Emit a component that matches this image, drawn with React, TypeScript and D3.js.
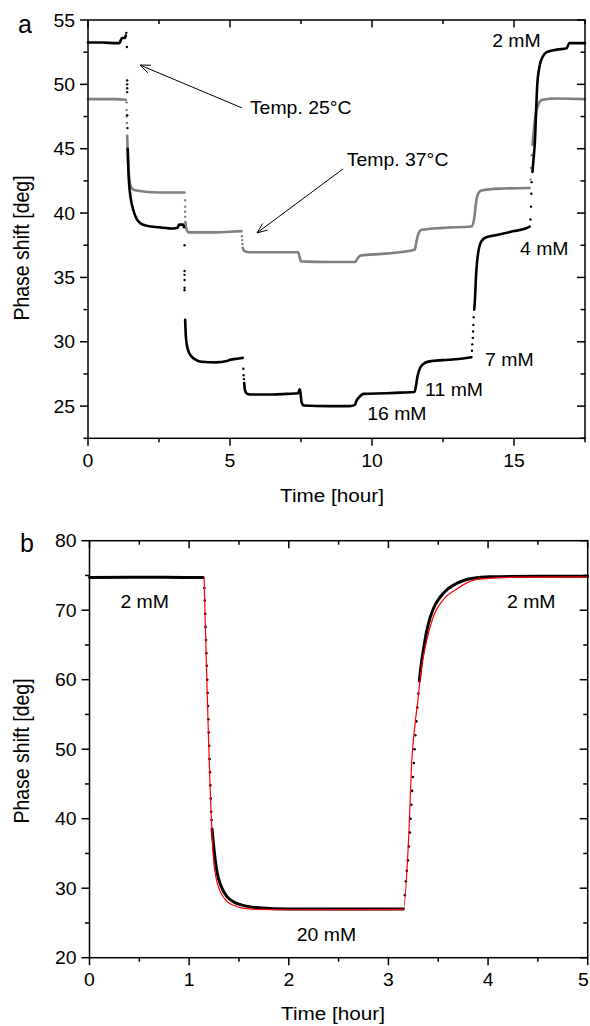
import React, { useRef, useEffect } from 'react';
import * as d3 from 'd3';

type Pt = [number, number];

// ---- panel a (time in hours, phase shift in deg); NaN marks a gap in the dense trace
const blackA: Pt[] = [
  [0, 53.25], [0.5, 53.25], [1.0, 53.2], [1.1, 53.2], [1.15, 53.4], [1.2, 53.6], [1.3, 53.6], [1.33, 53.8],
  [1.34, NaN],
  [1.4, 45.0], [1.42, 43.5], [1.45, 42.2], [1.5, 41.2], [1.6, 40.2], [1.7, 39.6], [1.85, 39.2], [2.1, 39.0],
  [2.5, 38.9], [3.0, 38.8], [3.15, 38.85], [3.2, 39.1], [3.35, 39.1], [3.38, 38.9],
  [3.39, NaN],
  [3.42, 31.7], [3.44, 30.6], [3.47, 29.9], [3.55, 29.2], [3.65, 28.85], [3.8, 28.6], [4.0, 28.45], [4.5, 28.4],
  [4.9, 28.5], [5.0, 28.6], [5.3, 28.7], [5.45, 28.75],
  [5.46, NaN],
  [5.5, 26.8], [5.52, 26.3], [5.58, 26.0], [5.7, 25.9], [6.5, 25.9], [7.0, 25.95], [7.4, 26.0], [7.45, 26.3],
  [7.48, 26.1], [7.52, 25.3], [7.6, 25.05], [8.5, 25.0], [9.2, 25.0], [9.4, 25.1], [9.45, 25.4], [9.55, 25.7],
  [9.7, 25.95], [10.5, 26.0], [11.0, 26.05], [11.5, 26.1], [11.55, 26.6], [11.6, 27.3], [11.7, 28.0], [11.85, 28.35],
  [12.1, 28.5], [12.7, 28.6], [13.2, 28.7], [13.5, 28.8],
  [13.51, NaN],
  [13.6, 32.5], [13.63, 33.5], [13.66, 35.0], [13.7, 36.2], [13.76, 37.2], [13.85, 37.8], [14.0, 38.1], [14.4, 38.3],
  [15.0, 38.6], [15.4, 38.8], [15.55, 38.95],
  [15.56, NaN],
  [15.65, 43.2], [15.7, 44.5], [15.74, 45.7], [15.78, 48.0], [15.82, 50.0], [15.9, 51.4], [16.0, 52.1], [16.15, 52.5],
  [16.5, 52.7], [16.85, 52.8], [16.95, 53.2], [17.5, 53.2],
];

const blackADots: Pt[] = [
  [1.35, 54.0], [1.37, 52.9], [1.38, 50.3], [1.38, 50.0], [1.38, 49.7], [1.38, 49.4], [1.38, 47.6], [1.39, 46.6],
  [3.4, 37.5], [3.4, 35.5], [3.4, 35.2], [3.4, 34.8], [3.4, 34.2], [3.4, 34.0],
  [5.47, 27.9], [5.48, 27.4], [5.49, 27.1],
  [13.52, 29.3], [13.53, 29.8], [13.55, 30.3], [13.56, 30.8], [13.57, 31.3], [13.58, 31.9],
  [15.58, 39.5], [15.6, 40.5], [15.61, 41.5], [15.62, 42.4],
];

const grayA: Pt[] = [
  [0, 48.85], [1.0, 48.85], [1.33, 48.8],
  [1.34, NaN],
  [1.38, 46.0], [1.4, 44.5], [1.43, 43.2], [1.48, 42.3], [1.55, 41.9], [1.7, 41.75], [2.5, 41.6], [3.4, 41.6],
  [3.41, NaN],
  [3.43, 39.3], [3.46, 38.8], [3.55, 38.5], [4.5, 38.5], [5.0, 38.55], [5.4, 38.6],
  [5.41, NaN],
  [5.45, 37.3], [5.5, 37.05], [5.7, 36.95], [6.5, 36.95], [7.4, 36.95], [7.45, 36.6], [7.5, 36.25], [8.5, 36.2],
  [9.4, 36.2], [9.5, 36.5], [9.6, 36.7], [10.5, 36.85], [11.5, 37.15], [11.55, 37.6], [11.62, 38.3], [11.75, 38.7],
  [12.5, 38.85], [13.5, 38.95], [13.6, 39.6], [13.65, 40.6], [13.72, 41.4], [13.85, 41.75], [14.5, 41.9], [15.55, 41.95],
  [15.56, NaN],
  [15.65, 45.3], [15.7, 46.5], [15.75, 47.5], [15.85, 48.4], [16.0, 48.8], [16.5, 48.9], [17.5, 48.85],
];

const grayADots: Pt[] = [
  [1.36, 48.6], [1.36, 48.0], [1.36, 47.5], [1.37, 47.0],
  [3.42, 41.0], [3.42, 40.5], [3.42, 40.1], [3.42, 39.7],
  [5.42, 38.2], [5.43, 37.9], [5.44, 37.6],
  [15.58, 42.6], [15.6, 43.5], [15.62, 44.5],
];

const xTicksA = [0, 5, 10, 15];
const yTicksA = [25, 30, 35, 40, 45, 50, 55];

const notesA = [
  { text: '2 mM', t: 14.23, v: 52.9 },
  { text: 'Temp. 25°C', t: 5.7, v: 47.7 },
  { text: 'Temp. 37°C', t: 9.11, v: 43.66 },
  { text: '4 mM', t: 15.21, v: 36.75 },
  { text: '7 mM', t: 13.98, v: 28.1 },
  { text: '11 mM', t: 11.87, v: 25.8 },
  { text: '16 mM', t: 9.83, v: 23.94 },
];

const arrowsA: { from: Pt; to: Pt }[] = [
  { from: [5.42, 48.17], to: [1.83, 51.5] },
  { from: [8.98, 43.43], to: [5.95, 38.46] },
];

// ---- panel b
const blackB: Pt[] = [
  [0, 74.7], [0.5, 74.75], [1.0, 74.7], [1.14, 74.7],
  [1.145, NaN],
  [1.23, 38.5], [1.25, 35.5], [1.28, 32.3], [1.32, 30.3], [1.38, 28.8], [1.45, 28.0], [1.55, 27.5], [1.7, 27.2],
  [2.0, 27.0], [2.5, 27.0], [3.0, 27.0], [3.15, 27.0],
  [3.155, NaN],
  [3.31, 59.8], [3.33, 62.3], [3.35, 64.2], [3.38, 66.7], [3.42, 69.0], [3.47, 70.8], [3.52, 71.9], [3.6, 73.1],
  [3.69, 73.9], [3.77, 74.35], [3.85, 74.6], [4.02, 74.8], [4.5, 74.9], [5.0, 74.9],
];

const blackBDots: Pt[] = [
  [1.153, 73.2], [1.157, 71.4], [1.161, 69.5], [1.165, 67.6], [1.169, 65.7], [1.173, 63.8], [1.177, 62.0],
  [1.181, 60.0], [1.185, 58.1], [1.189, 56.2], [1.193, 54.3], [1.197, 52.4], [1.201, 50.5], [1.205, 48.6],
  [1.209, 46.7], [1.213, 44.8], [1.217, 42.9], [1.221, 41.0], [1.225, 39.8],
  [3.165, 29.0], [3.175, 31.0], [3.185, 32.5], [3.195, 34.0], [3.205, 36.0], [3.215, 38.0], [3.222, 40.0],
  [3.23, 42.0], [3.238, 44.0], [3.245, 46.0], [3.255, 48.0], [3.262, 50.0], [3.27, 52.0], [3.28, 54.0],
  [3.29, 56.0], [3.3, 58.0],
];

const fitB: Pt[] = [
  [1.15, 74.7], [1.223, 40.0], [1.243, 34.5], [1.27, 31.5], [1.31, 29.6], [1.38, 28.1], [1.45, 27.5], [1.55, 27.1],
  [1.7, 26.95], [2.0, 26.9], [3.15, 26.95], [3.2, 36.3], [3.235, 48.4], [3.27, 54.0], [3.3, 57.5], [3.32, 60.4],
  [3.385, 65.7], [3.45, 69.05], [3.55, 71.5], [3.69, 73.1], [3.85, 74.3], [4.02, 74.6], [4.3, 74.75], [5.0, 74.8],
];

const xTicksB = [0, 1, 2, 3, 4, 5];
const yTicksB = [20, 30, 40, 50, 60, 70, 80];

const notesB = [
  { text: '2 mM', t: 0.31, v: 70.3 },
  { text: '2 mM', t: 4.19, v: 70.3 },
  { text: '20 mM', t: 2.08, v: 22.4 },
];

const FONT = '"Liberation Sans", Arial, Helvetica, sans-serif';

const App = () => {
  const ref = useRef<SVGSVGElement>(null);

  useEffect(() => {
    if (!ref.current) return;
    const svg = d3.select(ref.current);
    svg.selectAll('*').remove();
    const W = 590;

    const text = (g: any, x: number, y: number, s: string, size: number, anchor = 'start', sx = 1.08) =>
      g.append('text')
        .attr('transform', `translate(${x},${y}) scale(${sx},1)`)
        .attr('text-anchor', anchor)
        .attr('font-size', size)
        .attr('font-family', FONT)
        .attr('fill', '#000')
        .text(s);

    const frame = (x: any, y: any, xt: number[], xMinor: number, yt: number[], yMinor: number) => {
      const [x0, x1] = x.range();
      const [y0, y1] = y.range();
      const g = svg.append('g').attr('stroke', '#000').attr('stroke-width', 1.5);
      g.append('rect').attr('x', x0).attr('y', y1).attr('width', x1 - x0).attr('height', y0 - y1).attr('fill', 'none');
      const [dx0, dx1] = x.domain();
      const [dy0, dy1] = y.domain();
      const minorX = d3.range(dx0, dx1 + 1e-9, xMinor);
      const minorY = d3.range(dy0, dy1 + 1e-9, yMinor);
      minorX.forEach(v => {
        const major = xt.some(t => Math.abs(t - v) < 1e-9);
        const len = major ? 7.5 : 4;
        g.append('line').attr('x1', x(v)).attr('x2', x(v)).attr('y1', y0).attr('y2', y0 + len);
        g.append('line').attr('x1', x(v)).attr('x2', x(v)).attr('y1', y1).attr('y2', y1 + len);
      });
      minorY.forEach(v => {
        const major = yt.some(t => Math.abs(t - v) < 1e-9);
        const len = major ? 8 : 4.5;
        g.append('line').attr('y1', y(v)).attr('y2', y(v)).attr('x1', x0).attr('x2', x0 - len);
        g.append('line').attr('y1', y(v)).attr('y2', y(v)).attr('x1', x1).attr('x2', x1 - len);
      });
      // the last label sits on the page edge; keep it inside
      xt.forEach(v => text(svg, Math.min(x(v), W - 6.5), y0 + 28.5, String(v), 18, 'middle'));
      yt.forEach(v => text(svg, x0 - 13, y(v) + 6.5, String(v), 18, 'end'));
    };

    const dense = (x: any, y: any, data: Pt[], color: string, w: number) => {
      const line = d3.line<Pt>()
        .defined(d => !isNaN(d[1]))
        .x(d => x(d[0]))
        .y(d => y(d[1]))
        .curve(d3.curveMonotoneX);
      svg.append('path').attr('d', line(data)).attr('fill', 'none')
        .attr('stroke', color).attr('stroke-width', w).attr('stroke-linejoin', 'round').attr('stroke-linecap', 'round');
    };

    const dots = (x: any, y: any, data: Pt[], color: string, r: number) => {
      svg.append('g').selectAll('circle').data(data).enter().append('circle')
        .attr('cx', d => x(d[0])).attr('cy', d => y(d[1])).attr('r', r).attr('fill', color);
    };

    // ---------- panel a
    const xa = d3.scaleLinear().domain([0, 17.5]).range([88, 585]);
    const ya = d3.scaleLinear().domain([22.5, 55]).range([438.3, 20]);

    dense(xa, ya, grayA, '#7f7f7f', 2.6);
    dots(xa, ya, grayADots, '#7f7f7f', 1.2);
    dense(xa, ya, blackA, '#000', 2.6);
    dots(xa, ya, blackADots, '#000', 1.2);
    frame(xa, ya, xTicksA, 2.5, yTicksA, 2.5);

    notesA.forEach(n => text(svg, xa(n.t), ya(n.v), n.text, 18));
    arrowsA.forEach(a => {
      const fx = xa(a.from[0]), fy = ya(a.from[1]);
      const tx = xa(a.to[0]), ty = ya(a.to[1]);
      const ang = Math.atan2(fy - ty, fx - tx);
      const g = svg.append('g').attr('stroke', '#000').attr('stroke-width', 1).attr('fill', 'none');
      g.append('line').attr('x1', fx).attr('y1', fy).attr('x2', tx).attr('y2', ty);
      [-0.38, 0.38].forEach(da => {
        g.append('line').attr('x1', tx).attr('y1', ty)
          .attr('x2', tx + 11 * Math.cos(ang + da)).attr('y2', ty + 11 * Math.sin(ang + da));
      });
    });

    text(svg, 25, 33, 'a', 25, 'middle', 1);
    text(svg, 332, 502, 'Time [hour]', 18.5, 'middle', 1.12);
    svg.append('text')
      .attr('transform', 'translate(29,248) scale(1.1,1) rotate(-90)')
      .attr('text-anchor', 'middle').attr('font-size', 19.5).attr('font-family', FONT)
      .text('Phase shift [deg]');

    // ---------- panel b
    const xb = d3.scaleLinear().domain([0, 5]).range([89.5, 587.7]);
    const yb = d3.scaleLinear().domain([20, 80]).range([957.7, 540.7]);

    dense(xb, yb, blackB, '#000', 3);
    dots(xb, yb, blackBDots, '#000', 1.3);
    dense(xb, yb, fitB, '#ff0000', 1.2);
    frame(xb, yb, xTicksB, 0.5, yTicksB, 5);

    notesB.forEach(n => text(svg, xb(n.t), yb(n.v), n.text, 18));
    text(svg, 27, 552, 'b', 25, 'middle', 1);
    text(svg, 333, 1020, 'Time [hour]', 18.5, 'middle', 1.12);
    svg.append('text')
      .attr('transform', 'translate(29,751) scale(1.1,1) rotate(-90)')
      .attr('text-anchor', 'middle').attr('font-size', 19.5).attr('font-family', FONT)
      .text('Phase shift [deg]');
  }, []);

  return (
    <div style={{ position: 'absolute', left: 0, top: 0 }}>
      <svg ref={ref} width={590} height={1026} style={{ display: 'block', background: '#fff' }} />
    </div>
  );
};

export default App;
